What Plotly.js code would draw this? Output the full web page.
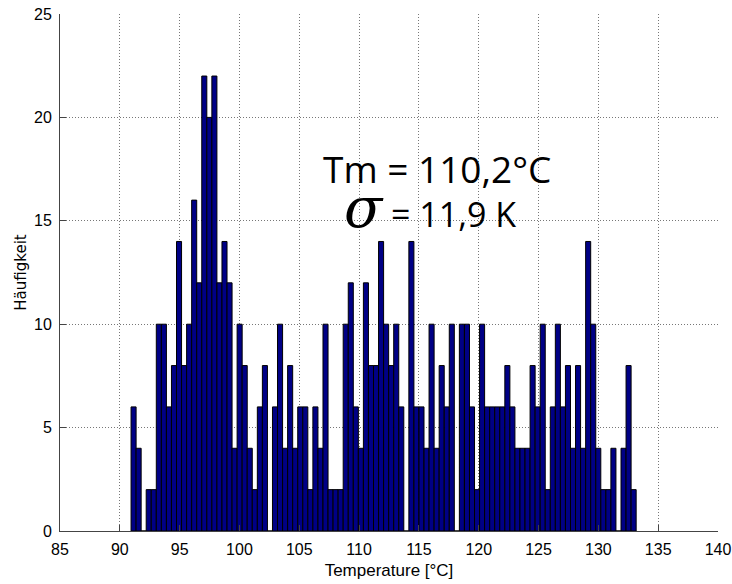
<!DOCTYPE html>
<html>
<head>
<meta charset="utf-8">
<script src="https://cdn.plot.ly/plotly-3.0.1.min.js"></script>
<style>html,body{margin:0;padding:0;background:#fff;}#chart{width:732px;height:584px;}</style>
</head>
<body>
<div id="chart"></div>
<script>
// Histogram counts, 100 bins
const counts = [
  6, 4, 0, 2, 2, 10, 10, 6, 8, 14,
  8, 10, 16, 12, 22, 20, 22, 12, 14, 12,
  4, 10, 8, 4, 2, 6, 8, 0, 6, 10,
  4, 8, 4, 6, 6, 2, 6, 4, 10, 2,
  2, 2, 10, 12, 6, 4, 12, 8, 8, 14,
  10, 8, 10, 6, 0, 14, 6, 6, 4, 10,
  4, 8, 6, 10, 0, 10, 10, 6, 2, 10,
  6, 6, 6, 6, 8, 6, 4, 4, 4, 8,
  6, 10, 2, 6, 10, 6, 8, 4, 8, 4,
  14, 10, 4, 2, 2, 4, 0, 4, 8, 2
];
const firstBinCenter = 91.15;   // °C
const binWidth = 0.4222;        // °C
const xTicks = [85, 90, 95, 100, 105, 110, 115, 120, 125, 130, 135, 140];
const yTicks = [0, 5, 10, 15, 20, 25];
const xLabel = 'Temperature [°C]';
const yLabel = 'Häufigkeit';
const line1 = 'Tm = 110,2°C';
const line2 = '<span style="font-family:\'DejaVu Serif\',serif;font-style:italic;font-size:56px">σ</span> = 11,9 K';

const trace = {
  type: 'bar',
  y: counts,
  x0: firstBinCenter,
  dx: binWidth,
  width: binWidth,
  marker: {color: '#000085', line: {color: '#000000', width: 1}},
  hoverinfo: 'skip'
};

const axisCommon = {
  showline: true, linecolor: '#444', linewidth: 1,
  ticks: 'inside', ticklen: 6, tickcolor: '#444',
  showgrid: true, gridcolor: '#777', griddash: '1px,2px', gridwidth: 1,
  zeroline: false, mirror: false,
  ticklabelstandoff: 4,
  tickfont: {family: 'Liberation Sans, Arial, sans-serif', size: 16, color: '#000'}
};

const layout = {
  width: 732, height: 584,
  margin: {l: 60, r: 14, t: 14, b: 53},
  paper_bgcolor: '#fff', plot_bgcolor: '#fff',
  showlegend: false,
  bargap: 0,
  xaxis: Object.assign({}, axisCommon, {
    range: [85, 140], tickvals: xTicks, ticktext: xTicks.map(String),
    automargin: false,
    title: {text: xLabel, font: {family: 'Liberation Sans, Arial, sans-serif', size: 17, color: '#000'}, standoff: 6}
  }),
  yaxis: Object.assign({}, axisCommon, {
    range: [0, 25], tickvals: yTicks, ticktext: yTicks.map(String),
    automargin: false,
    title: {text: yLabel, font: {family: 'DejaVu Sans, sans-serif', size: 15, color: '#000'}, standoff: 3}
  }),
  annotations: [
    {x: 116.55, y: 17.55, xref: 'x', yref: 'y', text: line1, showarrow: false,
     font: {family: 'Open Sans, Noto Sans, sans-serif', size: 37, color: '#000'}},
    {x: 115.95, y: 15.62, xref: 'x', yref: 'y', text: line2, showarrow: false,
     font: {family: 'Open Sans, Noto Sans, sans-serif', size: 34, color: '#000'}}
  ]
};

Plotly.newPlot('chart', [trace], layout, {staticPlot: true, displayModeBar: false});
</script>
</body>
</html>
